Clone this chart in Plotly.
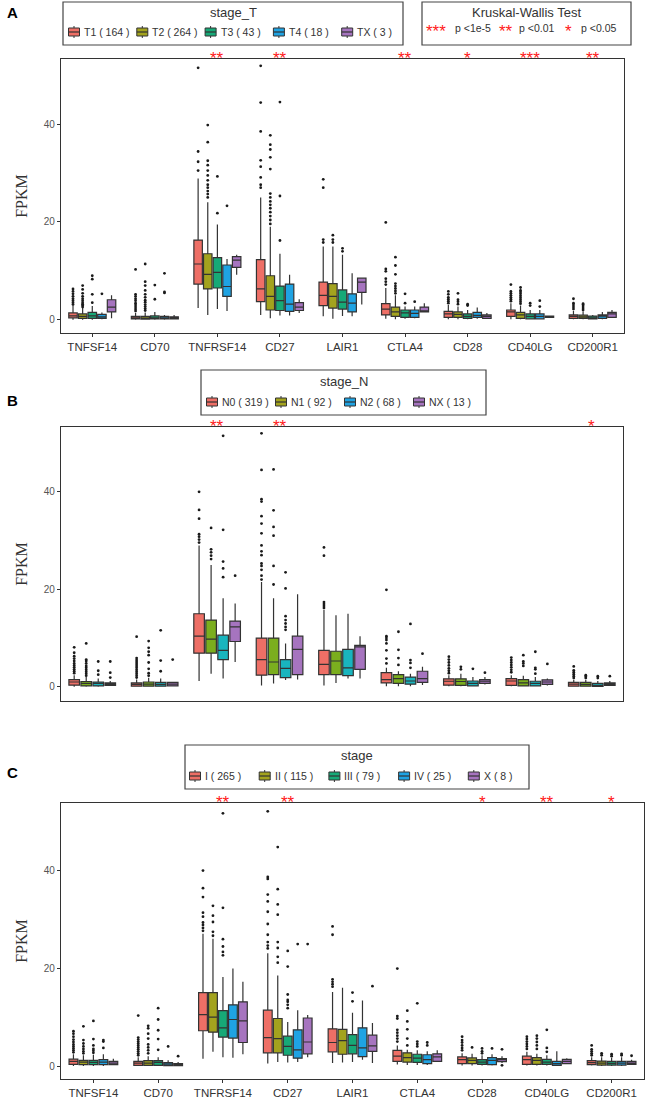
import plotly.graph_objects as go

W, H = 649, 1098

genes = ["TNFSF14", "CD70", "TNFRSF14", "CD27", "LAIR1", "CTLA4", "CD28", "CD40LG", "CD200R1"]

# ---------------- Panel A : stage_T ----------------
A_groups = ["T1", "T2", "T3", "T4", "TX"]
A_counts = [164, 264, 43, 18, 3]
A_sig = ["", "", "**", "**", "", "**", "*", "***", "**"]
# box stats per gene: (lower whisker, q1, median, q3, upper whisker)
A_T1 = [(0.0, 0.4, 0.8, 1.4, 2.8), (0.0, 0.2, 0.4, 0.7, 1.4), (2.4, 7.3, 11.4, 16.3, 28.9),
        (1.0, 3.7, 6.3, 12.3, 25.0), (0.7, 2.9, 5.0, 7.7, 15.0), (0.2, 1.0, 2.2, 3.3, 6.5),
        (0.1, 0.5, 1.2, 1.7, 3.0), (0.1, 0.7, 1.6, 2.0, 3.4), (0.1, 0.3, 0.7, 1.0, 1.8)]
A_T1_out = [[3.1, 3.5, 3.9, 4.3, 4.8, 5.3, 5.8, 6.3], [1.8, 2.2, 2.6, 3.0, 3.4, 3.9, 4.3, 4.8, 5.2, 10.3],
            [30.5, 32.3, 34.4, 51.5], [27.0, 27.6, 29.1, 31.3, 32.6, 38.5, 44.4, 51.9],
            [15.8, 16.4, 27.0, 28.7], [7.2, 7.8, 8.4, 9.9, 10.4, 19.9], [3.4, 3.8, 4.2, 4.6, 5.2, 5.8],
            [3.8, 4.2, 4.6, 5.0, 5.4, 5.8, 7.2], [2.2, 2.6, 3.0, 3.4, 4.3]]
A_T2 = [(0.0, 0.3, 0.7, 1.2, 2.4), (0.0, 0.15, 0.35, 0.7, 1.5), (1.0, 6.3, 9.3, 13.5, 24.0),
        (0.3, 2.0, 4.8, 9.0, 19.0), (0.2, 2.4, 4.8, 7.4, 15.0), (0.1, 0.7, 1.6, 2.6, 5.0),
        (0.1, 0.5, 1.1, 1.6, 2.7), (0.1, 0.3, 1.0, 1.5, 2.9), (0.1, 0.27, 0.6, 0.95, 1.7)]
A_T2_out = [[2.6, 2.9, 3.2, 3.5, 3.9, 4.3, 4.8, 5.4, 6.2, 7.0],
            [1.9, 2.3, 2.7, 3.1, 3.6, 4.0, 4.6, 5.2, 6.0, 7.0, 7.8, 11.4],
            [25.0, 25.7, 26.3, 27.0, 27.6, 28.5, 29.5, 30.5, 31.6, 32.5, 36.3, 39.8],
            [19.6, 20.4, 21.2, 22.0, 22.8, 23.5, 24.2, 25.0, 25.8, 30.8, 33.2, 34.8, 35.8, 37.7],
            [15.8, 16.4, 17.3], [5.4, 5.9, 6.4, 6.9, 7.4, 9.3, 11.1, 12.8], [3.2, 3.7, 4.1, 5.4],
            [3.3, 3.7, 4.1, 4.5, 4.9, 5.3, 5.7, 6.0, 6.6], [2.0, 2.4, 2.8, 3.1, 3.3]]
A_T3 = [(0.0, 0.3, 0.8, 1.5, 2.8), (0.0, 0.2, 0.4, 0.8, 1.6), (2.2, 6.5, 9.7, 12.7, 19.5),
        (0.9, 1.9, 3.9, 6.9, 13.5), (0.8, 2.2, 3.6, 6.1, 13.3), (0.2, 0.5, 1.4, 2.0, 2.7),
        (0.1, 0.3, 0.7, 1.2, 2.0), (0.1, 0.2, 0.7, 1.2, 2.0), (0.1, 0.2, 0.4, 0.75, 1.0)]
A_T3_out = [[3.5, 5.2, 8.3, 9.0], [4.2, 7.1], [21.8, 29.3], [16.2, 25.3, 44.5], [14.0, 14.6],
            [3.4, 5.3], [2.9, 3.2], [2.9, 3.4], []]
A_T4 = [(0.1, 0.3, 0.6, 1.1, 1.5), (0.0, 0.2, 0.4, 0.7, 1.0), (1.8, 4.8, 6.8, 11.2, 12.4),
        (0.9, 1.7, 3.2, 7.3, 9.2), (0.7, 1.6, 3.4, 5.3, 9.5), (0.3, 0.5, 1.3, 2.0, 2.7),
        (0.2, 0.5, 0.9, 1.5, 2.5), (0.1, 0.2, 0.7, 1.2, 2.0), (0.1, 0.3, 0.75, 1.0, 1.6)]
A_T4_out = [[5.3], [5.5, 5.7, 9.5], [23.3], [], [], [3.7], [], [2.7, 3.9], []]
A_TX = [(0.3, 1.6, 2.6, 4.1, 5.0), (0.1, 0.2, 0.4, 0.6, 1.0), (9.2, 10.7, 12.2, 12.9, 13.3),
        (1.4, 1.9, 2.6, 3.5, 4.2), (3.1, 5.6, 7.7, 8.5, 8.5), (1.6, 1.6, 1.8, 2.6, 3.4),
        (0.3, 0.3, 0.7, 1.0, 1.4), (0.5, 0.5, 0.6, 0.75, 0.75), (0.5, 0.5, 1.2, 1.5, 2.0)]
A_TX_out = [[], [], [], [], [], [], [], [], []]

# ---------------- Panel B : stage_N ----------------
B_groups = ["N0", "N1", "N2", "NX"]
B_counts = [319, 92, 68, 13]
B_sig = ["", "", "**", "**", "", "", "", "", "*"]
B_N0 = [(0.0, 0.35, 1.0, 1.5, 2.4), (0.0, 0.15, 0.5, 0.8, 1.5), (1.2, 6.9, 10.4, 15.0, 29.0),
        (0.3, 2.4, 5.6, 10.0, 21.5), (0.3, 2.5, 4.6, 7.5, 15.8), (0.1, 0.8, 1.5, 2.9, 3.9),
        (0.1, 0.35, 1.15, 1.65, 2.4), (0.1, 0.3, 1.2, 1.7, 2.4), (0.0, 0.15, 0.55, 0.9, 1.4)]
B_N0_out = [[2.8, 3.2, 3.6, 4.0, 4.4, 4.8, 5.3, 5.8, 6.3, 7.0, 8.1],
            [1.9, 2.3, 2.7, 3.1, 3.5, 3.9, 4.3, 4.7, 5.1, 5.5, 5.9, 10.3],
            [29.6, 30.2, 30.8, 31.3, 34.5, 36.3, 40.0],
            [22.0, 22.8, 24.0, 24.8, 25.3, 27.0, 27.8, 29.0, 31.5, 33.5, 35.0, 38.0, 38.5, 44.5, 52.0],
            [16.2, 16.6, 17.0, 17.4, 26.9, 28.6], [4.8, 5.8, 7.5, 8.9, 9.6, 10.0, 10.4, 19.9],
            [2.8, 3.3, 3.8, 4.4, 5.0, 5.6, 6.2], [3.0, 3.5, 4.0, 4.5, 5.0, 5.5, 6.0],
            [1.8, 2.2, 2.6, 3.0, 3.4, 4.2]]
B_N1 = [(0.0, 0.2, 0.7, 1.1, 2.0), (0.0, 0.15, 0.55, 1.0, 1.85), (2.7, 6.9, 9.8, 13.7, 25.0),
        (0.7, 2.5, 5.1, 10.0, 18.2), (0.8, 2.5, 5.3, 7.3, 14.7), (0.1, 0.7, 1.7, 2.5, 3.2),
        (0.1, 0.3, 1.1, 1.65, 2.7), (0.1, 0.2, 0.8, 1.5, 2.3), (0.0, 0.15, 0.5, 0.9, 1.4)]
B_N1_out = [[2.3, 2.7, 3.1, 3.5, 3.9, 4.3, 4.8, 5.3, 5.6, 8.9], [2.3, 2.8, 3.7, 5.0, 6.5, 7.2, 8.0, 9.4],
            [26.2, 26.9, 27.6, 28.2, 32.6], [21.0, 24.8, 31.0, 32.8, 36.2, 44.6], [],
            [4.5, 5.9, 7.6, 11.3], [3.6, 4.1], [4.3, 4.8, 5.2, 6.5], [1.8, 2.1, 2.4]]
B_N2 = [(0.0, 0.2, 0.7, 1.0, 1.7), (0.0, 0.15, 0.5, 0.9, 1.7), (1.7, 5.6, 7.5, 10.6, 18.2),
        (1.4, 1.9, 3.8, 5.6, 8.9), (1.7, 2.3, 3.9, 7.7, 15.0), (0.1, 0.55, 1.2, 2.0, 2.7),
        (0.1, 0.2, 0.7, 1.2, 2.0), (0.1, 0.2, 0.7, 1.15, 2.0), (0.0, 0.1, 0.3, 0.7, 1.2)]
B_N2_out = [[2.5, 3.3, 5.2], [3.2, 5.4, 11.6], [22.5, 24.3, 25.7, 32.2, 51.5],
            [11.7, 12.3, 13.0, 13.7, 14.5, 20.2, 23.5], [], [3.9, 4.9, 5.5, 12.9], [3.7],
            [2.7, 3.6, 3.9, 7.2], [1.8, 2.2]]
B_NX = [(0.2, 0.3, 0.55, 0.8, 1.2), (0.1, 0.2, 0.55, 0.9, 1.0), (5.1, 9.3, 12.3, 13.5, 17.1),
        (1.5, 2.5, 7.7, 10.4, 19.0), (1.7, 3.6, 8.2, 8.5, 10.4), (0.4, 0.9, 1.7, 3.2, 4.1),
        (0.5, 0.7, 1.15, 1.5, 2.0), (0.3, 0.5, 1.0, 1.45, 1.7), (0.2, 0.3, 0.55, 0.8, 1.2)]
B_NX_out = [[1.9, 2.9, 5.2], [5.6], [22.8], [], [], [6.8], [2.9], [4.7], [2.2]]

# ---------------- Panel C : stage ----------------
C_groups = ["I", "II", "III", "IV", "X"]
C_counts = [265, 115, 79, 25, 8]
C_sig = ["", "", "**", "**", "", "", "*", "**", "*"]
C_I = [(0.0, 0.35, 0.95, 1.4, 2.4), (0.0, 0.15, 0.6, 0.95, 1.8), (1.5, 7.2, 10.5, 15.0, 27.0),
       (0.5, 2.7, 5.8, 11.4, 23.0), (0.6, 2.9, 4.8, 7.6, 15.1), (0.3, 0.95, 2.0, 3.2, 4.2),
       (0.1, 0.5, 1.3, 1.85, 2.6), (0.1, 0.35, 1.3, 2.0, 2.9), (0.1, 0.3, 0.7, 1.1, 1.8)]
C_I_out = [[2.8, 3.2, 3.6, 4.0, 4.4, 4.9, 5.4, 6.0, 6.6, 7.1],
           [2.2, 2.6, 3.0, 3.4, 3.8, 4.2, 4.6, 5.0, 5.4, 5.8, 10.3],
           [27.6, 28.2, 28.8, 29.3, 30.5, 31.3, 34.5, 36.3, 39.9],
           [24.0, 24.6, 25.3, 26.8, 29.0, 31.5, 33.6, 35.0, 38.2, 38.6, 52.0],
           [16.2, 16.7, 17.2, 17.7, 26.8, 28.5], [5.0, 5.6, 6.2, 6.8, 7.4, 9.7, 10.2, 19.9],
           [3.2, 3.7, 4.2, 4.8, 5.3, 6.0], [3.5, 4.0, 4.5, 5.0, 5.5, 6.0], [2.2, 2.6, 3.0, 3.4, 4.2]]
C_II = [(0.0, 0.3, 0.8, 1.15, 2.2), (0.0, 0.15, 0.6, 1.1, 2.0), (2.9, 6.9, 10.0, 15.0, 26.0),
        (0.8, 2.7, 5.6, 9.7, 18.5), (0.7, 2.4, 5.2, 7.5, 16.0), (0.2, 0.8, 1.7, 2.7, 3.3),
        (0.1, 0.5, 1.15, 1.65, 2.5), (0.1, 0.35, 1.15, 1.7, 2.5), (0.0, 0.2, 0.6, 1.0, 1.8)]
C_II_out = [[2.6, 3.0, 3.5, 4.0, 4.6, 5.3, 8.1], [2.6, 3.2, 3.8, 4.4, 5.6, 6.6, 7.7, 8.2],
            [26.6, 27.4, 29.4, 30.7, 32.7], [21.1, 22.3, 24.1, 25.3, 30.9, 33.0, 36.1, 44.7], [],
            [4.2, 5.6, 7.5, 9.1, 11.3], [3.8], [3.5, 4.2, 4.9, 5.6, 6.2], [2.2, 2.6]]
C_III = [(0.0, 0.3, 0.75, 1.15, 2.3), (0.0, 0.15, 0.75, 1.1, 1.8), (1.8, 5.9, 7.8, 11.3, 18.2),
         (0.7, 2.2, 4.0, 6.1, 9.0), (0.8, 2.5, 4.2, 6.4, 10.9), (0.2, 0.75, 1.6, 2.4, 3.2),
         (0.1, 0.35, 0.8, 1.3, 2.2), (0.1, 0.35, 0.8, 1.35, 2.2), (0.0, 0.2, 0.55, 0.95, 1.7)]
C_III_out = [[2.7, 3.1, 3.5, 4.2, 5.5, 9.2], [3.3, 5.5, 7.3, 9.5, 11.8],
             [22.6, 23.3, 24.4, 25.9, 32.3, 51.6], [11.8, 12.5, 13.1, 13.5, 14.6, 20.3, 23.5],
             [13.2, 15.0], [4.0, 4.5, 5.0, 12.8], [2.6, 3.0, 3.6], [2.9, 3.7, 7.4], [2.0, 2.4]]
C_IV = [(0.0, 0.3, 0.8, 1.3, 2.4), (0.0, 0.1, 0.4, 0.7, 1.2), (1.7, 5.7, 9.5, 12.5, 19.9),
        (0.8, 1.6, 3.3, 7.4, 11.4), (1.3, 1.9, 3.7, 7.8, 13.4), (0.2, 0.5, 1.3, 2.3, 3.0),
        (0.1, 0.3, 1.15, 1.7, 2.4), (0.0, 0.15, 0.5, 0.95, 3.0), (0.0, 0.2, 0.6, 0.95, 1.8)]
C_IV_out = [[3.7, 5.0, 5.3], [4.0], [], [24.9], [], [4.2, 4.8], [3.6], [], [2.2, 2.5]]
C_X = [(0.2, 0.3, 0.6, 0.95, 1.5), (0.1, 0.1, 0.3, 0.5, 0.8), (2.4, 4.8, 9.2, 13.1, 17.2),
       (1.8, 2.5, 4.9, 9.8, 10.4), (0.6, 3.0, 4.1, 6.3, 8.8), (0.95, 0.95, 1.85, 2.5, 3.2),
       (0.6, 0.9, 1.3, 1.5, 2.0), (0.5, 0.5, 0.95, 1.35, 1.6), (0.35, 0.35, 0.6, 0.95, 1.3)]
C_X_out = [[], [2.0], [], [24.9], [16.3], [], [0.15, 3.4], [], [2.1]]

# ---------------- styles ----------------
RED, OLIVE, GREEN, BLUE, PURPLE = "#EE6F66", "#A3A31E", "#17A977", "#1FA3E3", "#A674BF"
LIME, TEAL = "#7BAE1E", "#19B5BE"
A_colors = [RED, OLIVE, GREEN, BLUE, PURPLE]
B_colors = [RED, LIME, TEAL, PURPLE]
B_key_colors = [RED, OLIVE, BLUE, PURPLE]
C_colors = [RED, OLIVE, GREEN, BLUE, PURPLE]

EDGE = "#333333"
STAR = "#FF1A1A"
SANS = "Liberation Sans, Arial, sans-serif"
SERIF = "Liberation Serif, Times New Roman, serif"


def px(x):
    return x / W


def py(y):
    return 1 - y / H


panels = [
    dict(key="A", groups=A_groups, counts=A_counts, colors=A_colors, key_colors=A_colors,
         stats=[A_T1, A_T2, A_T3, A_T4, A_TX], outs=[A_T1_out, A_T2_out, A_T3_out, A_T4_out, A_TX_out],
         sig=A_sig, title="stage_T",
         frame=(61, 624, 59, 333), yr=(-2.7, 53.3), ticklabels=True,
         lbox=(63, 403, 2, 45), ltitle_y=13, litem_y=32, key_x0=74, key_pitch=68.3, label_y=12),
    dict(key="B", groups=B_groups, counts=B_counts, colors=B_colors, key_colors=B_key_colors,
         stats=[B_N0, B_N1, B_N2, B_NX], outs=[B_N0_out, B_N1_out, B_N2_out, B_NX_out],
         sig=B_sig, title="stage_N",
         frame=(61, 623, 427, 701), yr=(-2.9, 53.3), ticklabels=False,
         lbox=(201, 486, 370, 415), ltitle_y=381, litem_y=402, key_x0=212, key_pitch=69.0, label_y=400),
    dict(key="C", groups=C_groups, counts=C_counts, colors=C_colors, key_colors=C_colors,
         stats=[C_I, C_II, C_III, C_IV, C_X], outs=[C_I_out, C_II_out, C_III_out, C_IV_out, C_X_out],
         sig=C_sig, title="stage",
         frame=(61, 644, 803, 1079), yr=(-2.65, 53.7), ticklabels=True,
         lbox=(185, 529, 745, 789), ltitle_y=755, litem_y=776, key_x0=195, key_pitch=69.7, label_y=772),
]

fig = go.Figure()
shapes = []
annotations = []
layout_axes = {}


def note(x, y, text, size, color="#333333", xanchor="center", family=SANS, xref="paper"):
    return dict(x=x, y=y, xref=xref, yref="paper", text=text, showarrow=False,
                xanchor=xanchor, yanchor="middle", font=dict(family=family, size=size, color=color))


for pi, p in enumerate(panels):
    sfx = "" if pi == 0 else str(pi + 1)
    xref, yref = "x" + sfx, "y" + sfx
    for gi, g in enumerate(p["groups"]):
        st = p["stats"][gi]
        fig.add_trace(go.Box(
            x=genes,
            lowerfence=[s[0] for s in st], q1=[s[1] for s in st], median=[s[2] for s in st],
            q3=[s[3] for s in st], upperfence=[s[4] for s in st],
            name=g, fillcolor=p["colors"][gi], line=dict(color=EDGE, width=1.2),
            whiskerwidth=0, boxpoints=False, showlegend=False,
            offsetgroup=p["key"] + g, alignmentgroup=p["key"],
            xaxis=xref, yaxis=yref, hoverinfo="skip"))
        ox, oy = [], []
        for gene, vals in zip(genes, p["outs"][gi]):
            for v in vals:
                ox.append(gene)
                oy.append(v)
        fig.add_trace(go.Box(
            x=ox, y=oy, name=g + " outliers", boxpoints="all", jitter=0, pointpos=0,
            fillcolor="rgba(0,0,0,0)", line=dict(width=0, color="rgba(0,0,0,0)"),
            marker=dict(size=2.8, color="#1a1a1a"), showlegend=False,
            offsetgroup=p["key"] + g, alignmentgroup=p["key"],
            xaxis=xref, yaxis=yref, hoverinfo="y"))

    x0, x1, y0, y1 = p["frame"]
    layout_axes["xaxis" + sfx] = dict(
        domain=[px(x0), px(x1)], anchor=yref, type="category",
        categoryorder="array", categoryarray=genes, range=[-0.5, len(genes) - 0.5],
        showline=True, mirror=True, linecolor=EDGE, linewidth=1.3,
        showgrid=False, zeroline=False, ticks="outside" if p["ticklabels"] else "",
        ticklen=3, tickcolor=EDGE, showticklabels=p["ticklabels"],
        tickfont=dict(family=SANS, size=11.5, color="#333333"))
    layout_axes["yaxis" + sfx] = dict(
        domain=[py(y1), py(y0)], anchor=xref, range=list(p["yr"]),
        tickvals=[0, 20, 40], showline=True, mirror=True, linecolor=EDGE, linewidth=1.3,
        showgrid=False, zeroline=False, ticks="outside", ticklen=3, tickcolor=EDGE,
        tickfont=dict(family=SANS, size=10, color="#555555"),
        title=dict(text="FPKM", font=dict(family=SERIF, size=16, color="#333333"), standoff=12))

    # significance stars
    for gene, s in zip(genes, p["sig"]):
        if s:
            annotations.append(note(gene, py(y0 - 1), s, 17, color=STAR, xref=xref))

    # panel label
    annotations.append(note(px(12), py(p["label_y"]), "<b>" + p["key"] + "</b>", 15, color="black"))

    # legend box (manual, ggplot-style)
    lx0, lx1, ly0, ly1 = p["lbox"]
    shapes.append(dict(type="rect", xref="paper", yref="paper", x0=px(lx0), x1=px(lx1),
                       y0=py(ly1), y1=py(ly0), line=dict(color="#444444", width=1.2),
                       fillcolor="white", layer="above"))
    annotations.append(note(px((lx0 + lx1) / 2), py(p["ltitle_y"]), p["title"], 13))
    cy = p["litem_y"]
    for gi, g in enumerate(p["groups"]):
        cx = p["key_x0"] + p["key_pitch"] * gi
        kw, kh = 11, 8
        shapes.append(dict(type="rect", xref="paper", yref="paper",
                           x0=px(cx - kw / 2), x1=px(cx + kw / 2), y0=py(cy + kh / 2), y1=py(cy - kh / 2),
                           fillcolor=p["key_colors"][gi], line=dict(color=EDGE, width=1), layer="above"))
        shapes.append(dict(type="line", xref="paper", yref="paper",
                           x0=px(cx - kw / 2), x1=px(cx + kw / 2), y0=py(cy), y1=py(cy),
                           line=dict(color=EDGE, width=1.2), layer="above"))
        shapes.append(dict(type="line", xref="paper", yref="paper",
                           x0=px(cx), x1=px(cx), y0=py(cy - kh / 2), y1=py(cy - kh / 2 - 2),
                           line=dict(color=EDGE, width=1), layer="above"))
        shapes.append(dict(type="line", xref="paper", yref="paper",
                           x0=px(cx), x1=px(cx), y0=py(cy + kh / 2), y1=py(cy + kh / 2 + 2),
                           line=dict(color=EDGE, width=1), layer="above"))
        annotations.append(note(px(cx + 8), py(cy), f"{g} ( {p['counts'][gi]} )", 10.5, xanchor="left"))

# Kruskal-Wallis legend box
shapes.append(dict(type="rect", xref="paper", yref="paper", x0=px(422), x1=px(631),
                   y0=py(45), y1=py(2), line=dict(color="#444444", width=1.2),
                   fillcolor="white", layer="above"))
annotations.append(note(px(526), py(13), "Kruskal-Wallis Test", 13))
kw_stars = ["***", "**", "*"]
kw_labels = ["p <1e-5", "p <0.01", "p <0.05"]
kw_star_x = [436, 506, 568]
kw_text_x = [453, 517, 579]
for s, t, sx, tx in zip(kw_stars, kw_labels, kw_star_x, kw_text_x):
    annotations.append(note(px(sx), py(32), s, 17, color=STAR))
    annotations.append(note(px(tx), py(28), t, 10.5, xanchor="left"))

fig.update_layout(
    width=W, height=H, margin=dict(l=0, r=0, t=0, b=0),
    paper_bgcolor="white", plot_bgcolor="white",
    boxmode="group", boxgap=0.23, boxgroupgap=0.12,
    showlegend=False, shapes=shapes, annotations=annotations,
    **layout_axes)

fig.write_html("out.html", config={"displayModeBar": False},
               post_script="document.body.style.margin='0px';")
